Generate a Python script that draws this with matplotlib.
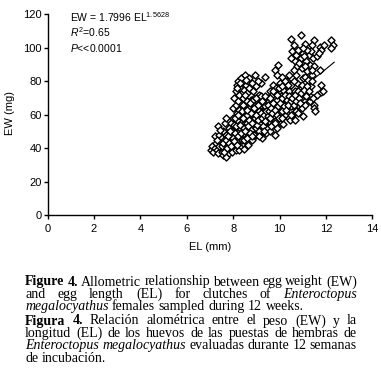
import matplotlib
matplotlib.use("Agg")
import matplotlib.pyplot as plt
import numpy as np

# ---------------- data ----------------
EL = [
    # lower-left tail
    7.05, 7.1, 7.15, 7.2, 7.25, 7.3, 7.35, 7.4, 7.45, 7.5, 7.55, 7.6, 7.65, 7.7, 7.75, 7.8,
    7.22, 7.36, 7.4, 7.5, 7.55, 7.6, 7.7, 7.75, 7.8, 7.65, 7.45, 7.7, 7.8, 7.3,
    # band 7.8-8.5
    7.85, 7.9, 7.95, 8.0, 8.05, 8.1, 8.15, 8.2, 8.25, 8.3, 8.35, 8.4, 8.45, 8.5,
    7.9, 8.0, 8.1, 8.2, 8.3, 8.4, 8.5, 7.95, 8.05, 8.15, 8.25, 8.35, 8.45, 8.0,
    8.1, 8.2, 8.3, 8.4, 8.5, 7.85, 8.15, 8.45, 8.25, 8.35,
    # upper-left arm
    8.05, 8.1, 8.15, 8.2, 8.25, 8.3, 8.35, 8.4, 8.45, 8.5, 8.55, 8.6, 8.65, 8.7, 8.75, 8.8,
    8.85, 8.94, 9.0, 9.1, 9.2, 9.37, 8.2, 8.4, 8.6, 8.9, 8.3, 8.5, 8.7, 9.05, 8.15, 8.55,
    # band 8.5-9.5
    8.55, 8.6, 8.65, 8.7, 8.75, 8.8, 8.85, 8.9, 8.95, 9.0, 9.05, 9.1, 9.15, 9.2, 9.23, 9.25,
    9.3, 9.35, 9.4, 9.45, 9.5, 8.6, 8.7, 8.8, 8.9, 9.0, 9.1, 9.2, 9.3, 9.4, 9.5, 8.65, 8.75,
    8.85, 8.95, 9.05, 9.15, 9.25, 9.35, 9.45, 8.8, 9.0, 9.2, 8.6, 9.4,
    # band 9.5-10.5
    9.55, 9.6, 9.65, 9.7, 9.75, 9.8, 9.85, 9.9, 9.95, 10.0, 10.05, 10.1, 10.16, 10.2, 10.25,
    10.3, 10.35, 10.4, 10.45, 10.5, 9.6, 9.7, 9.8, 9.88, 9.95, 10.1, 10.0, 10.2, 10.3, 10.4,
    9.55, 9.65, 9.75, 9.85, 9.9, 10.05, 10.15, 10.25, 10.35, 10.45, 10.5, 9.6, 9.7, 9.8, 9.9,
    10.0, 10.1, 10.2, 10.3, 10.4, 10.5,
    # lower right
    10.55, 10.6, 10.65, 10.7, 10.75, 10.8, 10.85, 10.9, 10.95, 11.0, 11.05, 11.1, 11.15, 11.24,
    11.3, 11.35, 11.46, 11.5, 11.53, 11.6, 11.74, 11.8, 11.8, 11.86, 10.6, 10.7, 10.9, 11.0,
    11.2, 11.4, 10.8, 11.1, 11.3, 10.65, 11.0,
    # top-right cluster
    10.93, 10.48, 11.49, 12.2, 12.3, 11.1, 10.6, 11.39, 11.74, 11.8, 10.55, 10.7, 10.8, 10.9,
    11.0, 11.15, 11.25, 11.35, 11.45, 10.65, 10.75, 10.85, 10.95, 11.05, 11.2, 11.3, 11.5,
    11.6, 11.7, 10.6, 11.0, 11.1, 10.5, 11.4, 12.2, 11.9,
]
EW = [
    39, 41, 38, 40, 43, 39, 37, 41, 44, 38, 36, 40, 42, 35, 39, 37,
    47, 53.5, 48, 46, 50, 45, 48, 44, 52, 55, 51, 58, 42, 45,
    40, 45, 38, 42, 47, 39, 44, 50, 38.8, 46, 41, 53, 39.8, 48,
    55, 58, 52, 56, 60, 57, 62, 50, 54, 61, 48, 55, 51, 64,
    66, 45, 52, 43, 55, 48, 57, 59, 63, 67,
    70, 74, 78, 80, 72, 76, 82, 70, 75, 83.6, 78, 73, 80, 76, 69, 79,
    74, 83.6, 77, 72, 79, 82.6, 68, 66, 68, 70, 79, 72, 82, 80, 76, 81,
    44, 50, 47, 54, 58, 45, 52, 61, 49, 56, 64, 53, 59, 66, 45.8, 50,
    62, 55, 68, 58, 52, 60, 64, 57, 66, 48, 62, 55, 57, 63, 70, 56, 51,
    63, 54, 59, 67, 61, 65, 52, 68, 70, 71, 55, 49,
    56, 60, 65, 54, 70, 47.8, 62, 58, 67, 73, 55, 64, 54.7, 69, 60,
    75, 66, 58, 56.7, 72, 74, 78, 86.6, 84, 89.5, 82.6, 79, 77, 80, 84,
    68, 72, 63, 76, 52, 71, 75, 66, 71, 63, 78, 50, 59, 66, 69,
    61, 58, 63, 68, 74, 65,
    60, 68, 74, 62, 79, 66, 71, 76, 64, 82, 69, 82.6, 73, 80.6,
    68, 77, 65.7, 64, 62.3, 72, 86.6, 77.6, 73.6, 74, 80, 84, 70, 74,
    86, 84, 61, 66, 71, 57, 59,
    108, 105.5, 105, 104.5, 102, 102.5, 101.5, 101.5, 100.5, 98.5, 98, 96, 99, 94,
    97, 92, 96, 98, 94, 92, 89, 91, 88, 95, 99, 90, 89,
    95, 97, 87, 100, 89, 94, 87, 100, 102,
]
# additional eggs in the dense central band
EL_dense = [
    7.52, 7.58, 7.62, 7.68, 7.72, 7.78, 7.82, 7.88, 7.92, 7.98,
    8.02, 8.08, 8.12, 8.18, 8.22, 8.28, 8.32, 8.38, 8.42, 8.48, 8.08, 8.22, 8.38, 8.48,
    8.52, 8.58, 8.62, 8.68, 8.72, 8.78, 8.82, 8.88, 8.92, 8.98, 8.58, 8.72, 8.88, 8.98, 8.62, 8.82,
    9.02, 9.08, 9.12, 9.18, 9.22, 9.28, 9.32, 9.38, 9.42, 9.48, 9.08, 9.22, 9.38, 9.48, 9.12, 9.32,
    9.52, 9.58, 9.62, 9.68, 9.72, 9.78, 9.82, 9.88, 9.92, 9.98, 9.58, 9.72, 9.88, 9.98, 9.62, 9.82,
    10.02, 10.08, 10.12, 10.18, 10.22, 10.28, 10.32, 10.38, 10.42, 10.48, 10.08, 10.22, 10.38,
    10.48, 10.12,
    10.55, 10.62, 10.68, 10.72, 10.78, 10.82, 10.88, 10.92, 10.98, 11.05, 11.12, 11.18, 11.28,
    11.38, 11.42,
]
EW_dense = [
    41, 43, 38, 45, 40, 47, 43, 50, 41, 46,
    44, 49, 53, 42, 47, 54, 49, 45, 58, 52, 58, 60, 62, 45,
    50, 46, 53, 57, 49, 61, 55, 48, 58, 52, 63, 67, 64, 60, 42, 47,
    54, 57, 50, 61, 58, 53, 60, 56, 62, 59, 66, 68, 71, 66, 47, 50,
    62, 58, 64, 61, 67, 56, 63, 60, 65, 58, 70, 74, 72, 76, 53, 55,
    67, 62, 70, 65, 72, 63, 69, 66, 71, 68, 77, 80, 78,
    60, 58,
    70, 66, 72, 68, 74, 70, 67, 73, 78, 75, 71, 77, 74,
    80, 70,
]

fit_a = 1.7996
fit_b = 1.5628
fit_range = [7.0, 12.35]

x_ticks = [0, 2, 4, 6, 8, 10, 12, 14]
y_ticks = [0, 20, 40, 60, 80, 100, 120]

# ---------------- fonts ----------------
sans = "Liberation Sans"
serif = "Liberation Serif"

plt.rcParams["font.family"] = [sans, "DejaVu Sans"]
plt.rcParams["mathtext.fontset"] = "custom"
plt.rcParams["mathtext.rm"] = sans
plt.rcParams["mathtext.it"] = sans + ":italic"
plt.rcParams["mathtext.bf"] = sans + ":bold"

W, H = 381, 382
fig = plt.figure(figsize=(W / 100, H / 100), dpi=100)

def fx(px):
    return px / W

def fy(py):
    return 1 - py / H

ax_l, ax_r, ax_t, ax_b = 47.5, 372.5, 14.5, 215.0
ax = fig.add_axes([fx(ax_l), fy(ax_b), (ax_r - ax_l) / W, (ax_b - ax_t) / H])

xs = np.linspace(fit_range[0], fit_range[1], 100)
ax.plot(xs, fit_a * xs ** fit_b, color="black", lw=0.8, zorder=2)
ax.scatter(EL + EL_dense, EW + EW_dense, marker="D", s=13, facecolor="white",
           edgecolor="black", linewidth=1.0, zorder=3)

ax.set_xlim(0, 14)
ax.set_ylim(0, 120)
ax.set_xticks(x_ticks)
ax.set_yticks(y_ticks)
ax.set_xticklabels([str(t) for t in x_ticks])
ax.set_yticklabels([str(t) for t in y_ticks])
for s in ["top", "right"]:
    ax.spines[s].set_visible(False)
for s in ["left", "bottom"]:
    ax.spines[s].set_linewidth(1.0)
ax.tick_params(axis="both", direction="out", length=3, width=1.0, labelsize=8, colors="black")
ax.tick_params(axis="y", pad=1)
ax.tick_params(axis="x", pad=3.5)

fig.text(fx(10), fy(113), "EW (mg)", rotation=90, ha="center", va="center", fontsize=8)
fig.text(fx(210), fy(247), "EL (mm)", ha="center", va="center", fontsize=8)

fig.text(fx(70), fy(21.5), r"EW = 1.7996 EL$^{1.5628}$", fontsize=7.5, va="baseline")
fig.text(fx(70), fy(36.7), r"$\mathit{R}^{2}$=0.65", fontsize=7.5, va="baseline")
fig.text(fx(70), fy(51.7), r"$\mathit{P}$<<0.0001", fontsize=7.5, va="baseline")

# ---------------- caption ----------------
cap_size = 10
renderer = fig.canvas.get_renderer()

N, B, I = "normal", "bold", "italic"
caption_lines = [
    ([("Figure", B), ("4.", B), ("Allometric", N), ("relationship", N), ("between", N),
      ("egg", N), ("weight", N), ("(EW)", N)], True, 285.5),
    ([("and", N), ("egg", N), ("length", N), ("(EL)", N), ("for", N), ("clutches", N),
      ("of", N), ("Enteroctopus", I)], True, 297.9),
    ([("megalocyathus", I), ("females", N), ("sampled", N), ("during", N), ("12", N),
      ("weeks.", N)], False, 310.3),
    ([("Figura", B), ("4.", B), ("Relación", N), ("alométrica", N), ("entre", N), ("el", N),
      ("peso", N), ("(EW)", N), ("y", N), ("la", N)], True, 324.5),
    ([("longitud", N), ("(EL)", N), ("de", N), ("los", N), ("huevos", N), ("de", N), ("las", N),
      ("puestas", N), ("de", N), ("hembras", N), ("de", N)], True, 336.9),
    ([("Enteroctopus", I), ("megalocyathus", I), ("evaluadas", N), ("durante", N), ("12", N),
      ("semanas", N)], True, 349.3),
    ([("de", N), ("incubación.", N)], False, 361.7),
]

cap_x0, cap_x1 = 25.0, 357.0

def make_text(word, style, x, y):
    kw = dict(fontsize=cap_size, family=[serif, "DejaVu Serif"], va="baseline", ha="left")
    if style == B:
        kw["fontweight"] = "bold"
    if style == I:
        kw["fontstyle"] = "italic"
    return fig.text(fx(x), fy(y), word, **kw)

space_t = make_text("a a", N, 0, 0)
aa_t = make_text("aa", N, 0, 0)
space_w = space_t.get_window_extent(renderer).width - aa_t.get_window_extent(renderer).width
space_t.remove()
aa_t.remove()

for words, justify, y in caption_lines:
    texts = [make_text(w, st, 0, y) for w, st in words]
    widths = [t.get_window_extent(renderer).width for t in texts]
    if justify and len(texts) > 1:
        gap = (cap_x1 - cap_x0 - sum(widths)) / (len(texts) - 1)
    else:
        gap = space_w
    x = cap_x0
    for t, w in zip(texts, widths):
        t.set_x(fx(x))
        x += w + gap

fig.savefig("out.png", dpi=100)
